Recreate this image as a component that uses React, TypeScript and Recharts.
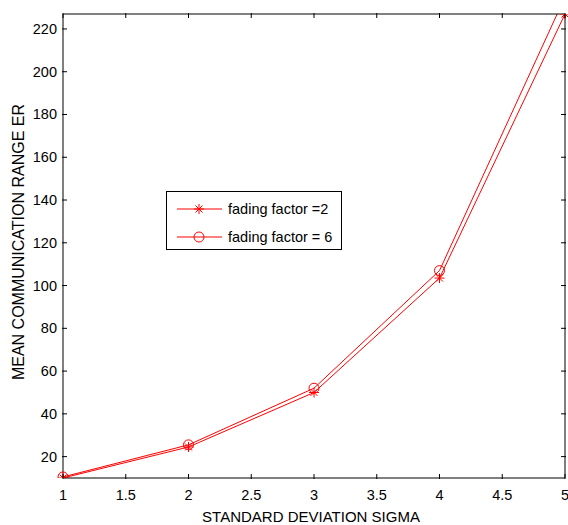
import { LineChart, Line, XAxis, YAxis } from "recharts";

const sigma = [1, 2, 3, 4, 5];
const fading2 = [10, 24.5, 50, 103.5, 227];
const fading6 = [10.5, 25.5, 52, 107, 235];
const xTicks = [1, 1.5, 2, 2.5, 3, 3.5, 4, 4.5, 5];
const yTicks = [20, 40, 60, 80, 100, 120, 140, 160, 180, 200, 220];
const seriesNames = ["fading factor =2", "fading factor = 6"];

const data = sigma.map((s, i) => ({ sigma: s, f2: fading2[i], f6: fading6[i] }));

const FONT = "'Liberation Sans', Arial, Helvetica, sans-serif";
const RED = "#ff0000";

function Star({ cx, cy, s = 5 }: { cx: number; cy: number; s?: number }) {
  const d = s * 0.7;
  return (
    <g stroke={RED} strokeWidth={1}>
      <line x1={cx - s} y1={cy} x2={cx + s} y2={cy} />
      <line x1={cx} y1={cy - s} x2={cx} y2={cy + s} />
      <line x1={cx - d} y1={cy - d} x2={cx + d} y2={cy + d} />
      <line x1={cx - d} y1={cy + d} x2={cx + d} y2={cy - d} />
    </g>
  );
}

const starDot = (p: any) => <Star key={`s${p.index}`} cx={p.cx} cy={p.cy} />;
const circleDot = (p: any) => (
  <circle key={`c${p.index}`} cx={p.cx} cy={p.cy} r={5} fill="none" stroke={RED} strokeWidth={1} />
);

const BottomTick = ({ x, y, payload }: any) => (
  <g>
    <line x1={x} y1={y - 1} x2={x} y2={y - 6} stroke="#000" />
    <text x={x} y={y + 20} textAnchor="middle" fontSize={14.5} fontFamily={FONT} fill="#000">
      {payload.value}
    </text>
  </g>
);
const TopTick = ({ x, y }: any) => <line x1={x} y1={y + 1} x2={x} y2={y + 6} stroke="#000" />;
const LeftTick = ({ x, y, payload }: any) => (
  <g>
    <line x1={x + 1} y1={y} x2={x + 6} y2={y} stroke="#000" />
    <text x={x - 4} y={y + 5} textAnchor="end" fontSize={14.5} fontFamily={FONT} fill="#000">
      {payload.value}
    </text>
  </g>
);
const RightTick = ({ x, y }: any) => <line x1={x - 1} y1={y} x2={x - 6} y2={y} stroke="#000" />;

function LegendBox() {
  return (
    <svg
      width={176}
      height={59}
      style={{ position: "absolute", left: 166, top: 191, display: "block" }}
    >
      <rect x={0.5} y={0.5} width={175} height={58} fill="#fff" stroke="#000" />
      {seriesNames.map((name, i) => {
        const y = 18 + i * 28;
        return (
          <g key={name}>
            <line x1={11} y1={y} x2={56} y2={y} stroke={RED} />
            {i === 0 ? (
              <Star cx={33} cy={y} />
            ) : (
              <circle cx={33} cy={y} r={5} fill="none" stroke={RED} />
            )}
            <text x={62} y={y + 5} fontSize={14.5} fontFamily={FONT} fill="#000">
              {name}
            </text>
          </g>
        );
      })}
    </svg>
  );
}

export default function App() {
  return (
    <div style={{ width: 568, height: 525, background: "#fff", position: "relative" }}>
      <style>{"body{margin:0}"}</style>
      <LineChart
        width={568}
        height={525}
        data={data}
        margin={{ top: 13, right: 2, bottom: 46, left: 62 }}
      >
        <XAxis
          dataKey="sigma"
          type="number"
          domain={[1, 5]}
          ticks={xTicks}
          height={1}
          tickSize={0}
          tickLine={false}
          tick={BottomTick}
          axisLine={{ stroke: "#000" }}
          interval={0}
          label={{
            content: () => (
              <text x={311} y={522} textAnchor="middle" fontSize={15} fontFamily={FONT} fill="#000">
                STANDARD DEVIATION SIGMA
              </text>
            ),
          }}
        />
        <XAxis
          xAxisId="top"
          orientation="top"
          dataKey="sigma"
          type="number"
          domain={[1, 5]}
          ticks={xTicks}
          height={1}
          tickSize={0}
          tickLine={false}
          tick={TopTick}
          axisLine={{ stroke: "#000" }}
          interval={0}
        />
        <YAxis
          type="number"
          domain={[10, 227]}
          allowDataOverflow
          ticks={yTicks}
          width={1}
          tickSize={0}
          tickLine={false}
          tick={LeftTick}
          axisLine={{ stroke: "#000" }}
          interval={0}
          label={{
            content: () => (
              <text
                x={24}
                y={242}
                transform="rotate(-90, 24, 242)"
                textAnchor="middle"
                fontSize={16}
                fontFamily={FONT}
                fill="#000"
              >
                MEAN COMMUNICATION RANGE ER
              </text>
            ),
          }}
        />
        <YAxis
          yAxisId="right"
          orientation="right"
          type="number"
          domain={[10, 227]}
          allowDataOverflow
          ticks={yTicks}
          width={1}
          tickSize={0}
          tickLine={false}
          tick={RightTick}
          axisLine={{ stroke: "#000" }}
          interval={0}
        />
        <Line
          dataKey="f2"
          name={seriesNames[0]}
          stroke={RED}
          strokeWidth={1}
          dot={starDot}
          activeDot={false}
          isAnimationActive={false}
        />
        <Line
          dataKey="f6"
          name={seriesNames[1]}
          stroke={RED}
          strokeWidth={1}
          dot={circleDot}
          activeDot={false}
          isAnimationActive={false}
        />
      </LineChart>
      <LegendBox />
    </div>
  );
}
